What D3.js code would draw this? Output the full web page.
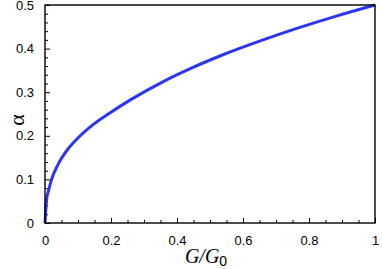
<!DOCTYPE html>
<html>
<head>
<meta charset="utf-8">
<script src="https://cdn.jsdelivr.net/npm/d3@7"></script>
<style>
  html,body{margin:0;padding:0;background:#fff;}
  svg{display:block;}
  .tick text{font-family:"Liberation Sans",Arial,sans-serif;font-size:13px;fill:#000;}
  .domain{display:none;}
</style>
</head>
<body>
<svg id="chart"></svg>
<script>
'use strict';
// alpha vs G/G0
const gRatio=[0,0.005,0.01,0.02,0.04,0.07,0.1,0.14,0.2,0.26,0.36,0.44,0.53,0.65,0.77,0.88,1];
const alpha =[0,0.055,0.072,0.1,0.135,0.17,0.195,0.222,0.254,0.283,0.325,0.354,0.383,0.417,0.448,0.474,0.5];
const xTicks=[0,0.2,0.4,0.6,0.8,1];
const xMinor=[0.05,0.1,0.15,0.25,0.3,0.35,0.45,0.5,0.55,0.65,0.7,0.75,0.85,0.9,0.95];
const yTicks=[0,0.1,0.2,0.3,0.4,0.5];
const yMinor=[0.02,0.04,0.06,0.08,0.12,0.14,0.16,0.18,0.22,0.24,0.26,0.28,0.32,0.34,0.36,0.38,0.42,0.44,0.46,0.48];

const W=382,H=269;
const m={top:5,right:7,bottom:46,left:45}, w=W-m.left-m.right, h=H-m.top-m.bottom;
const svg=d3.select('#chart').attr('width',W).attr('height',H);
const g=svg.append('g').attr('transform',`translate(${m.left},${m.top})`);

const x=d3.scaleLinear().domain([0,1]).range([0,w]);
const y=d3.scaleLinear().domain([0,0.5]).range([h,0]);
const fmt=d=>String(d);

// inward ticks: major + minor on bottom and left
g.append('g').attr('transform',`translate(0,${h})`)
  .call(d3.axisBottom(x).tickValues(xTicks).tickFormat(fmt).tickSizeInner(-5).tickPadding(13))
  .call(a=>a.selectAll('line').attr('stroke','#000').attr('stroke-width',1));
g.append('g').attr('transform',`translate(0,${h})`)
  .call(d3.axisBottom(x).tickValues(xMinor).tickFormat('').tickSizeInner(-3))
  .call(a=>a.selectAll('line').attr('stroke','#000').attr('stroke-width',1));
g.append('g')
  .call(d3.axisLeft(y).tickValues(yTicks).tickFormat(fmt).tickSizeInner(-5).tickPadding(11))
  .call(a=>a.selectAll('line').attr('stroke','#000').attr('stroke-width',1));
g.append('g')
  .call(d3.axisLeft(y).tickValues(yMinor).tickFormat('').tickSizeInner(-3))
  .call(a=>a.selectAll('line').attr('stroke','#000').attr('stroke-width',1));

// curve
const pts=gRatio.map((v,i)=>[v,alpha[i]]);
g.append('path').datum(pts)
  .attr('fill','none').attr('stroke','#2b36f0').attr('stroke-width',3)
  .attr('d',d3.line().x(d=>x(d[0])).y(d=>y(d[1])).curve(d3.curveMonotoneX));

// frame
g.append('rect').attr('width',w).attr('height',h)
  .attr('fill','none').attr('stroke','#000').attr('stroke-width',1.4);

// axis titles
const xt=svg.append('text').attr('x',m.left+w/2-4).attr('y',H-6).attr('text-anchor','middle')
  .attr('font-family','"Liberation Serif","Times New Roman",serif').attr('font-size',20).attr('font-style','italic');
xt.append('tspan').text('G/G');
xt.append('tspan').attr('font-family','"Liberation Sans",Arial,sans-serif').attr('font-style','normal')
  .attr('font-size',14).attr('dy',3).text('0');

svg.append('text').attr('transform',`translate(24,${m.top+h/2+6}) rotate(-90)`)
  .attr('text-anchor','middle')
  .attr('font-family','"Liberation Serif","Times New Roman",serif').attr('font-size',22).text('α');
</script>
</body>
</html>
